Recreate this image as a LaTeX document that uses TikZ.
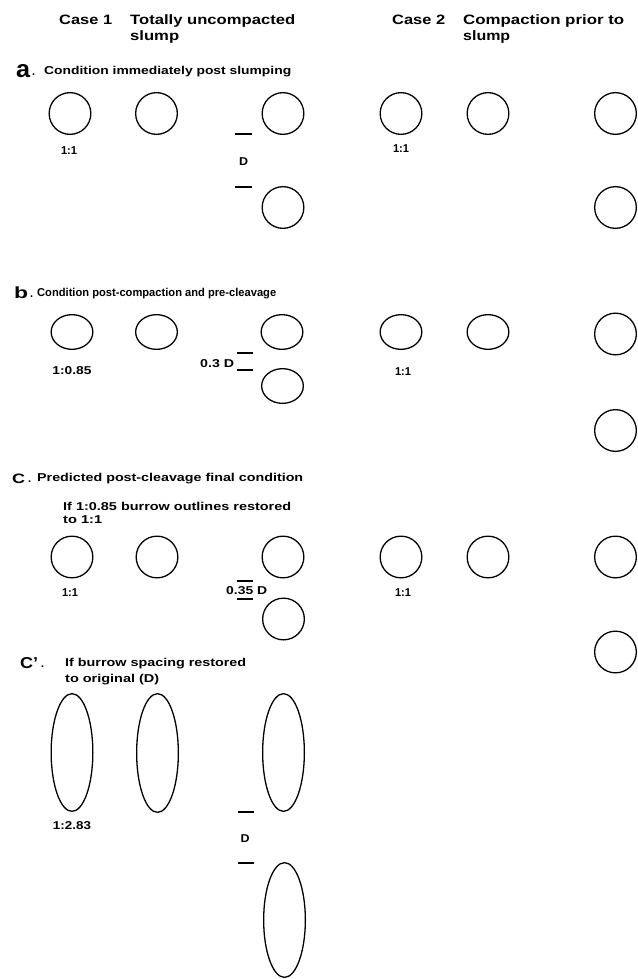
\documentclass[tikz,border=0pt]{standalone}
\usepackage{fontspec}
\setmainfont{Liberation Sans}
\usepackage{graphicx}
\usetikzlibrary{shapes.geometric}

% small bold text stretched to a given width (pt)
\newcommand{\smtxt}[2]{\resizebox{#1pt}{\height}{\fontsize{11.4}{13}\selectfont\bfseries #2}}
% header text
\newcommand{\hdtxt}[2]{\resizebox{#1pt}{\height}{\fontsize{13.6}{15}\selectfont\bfseries #2}}
% big section letter, width x height (pt)
\newcommand{\bigltr}[3]{\resizebox{#1pt}{#2pt}{\bfseries #3}}

\begin{document}
\begin{tikzpicture}[x=1pt,y=-1pt,
  burrow/.style={draw, ellipse, line width=1.3pt, inner sep=0pt,
                 minimum width=41.7pt, minimum height=#1},
  burrow/.default=41.7pt,
  txt/.style={anchor=base west, inner sep=0pt},
  lbl/.style={anchor=base, inner sep=0pt},
  tick/.style={line width=1.5pt}]
\useasboundingbox (0,0) rectangle (637,979);

% ---- column headings
\node[txt] (h1)  at (59,24.5)  {\hdtxt{53}{Case 1}};
\node[txt] (h1a) at (130,24.5) {\hdtxt{165}{Totally uncompacted}};
\node[txt] (h1b) at (130,40.5) {\hdtxt{49}{slump}};
\node[txt] (h2)  at (392,24.5) {\hdtxt{53}{Case 2}};
\node[txt] (h2a) at (463,24.5) {\hdtxt{161}{Compaction prior to}};
\node[txt] (h2b) at (463,40.5) {\hdtxt{47}{slump}};

% ---- a. immediately post slumping
\node[txt] (la)  at (16,78) {\bigltr{14}{13}{a}};
\node[txt] (lad) at (32,76) {\smtxt{3}{.}};
\node[txt] (ta)  at (44,75) {\smtxt{247}{Condition immediately post slumping}};
\node[burrow] (a1) at (70,113.5) {};
\node[burrow] (a2) at (156.5,113.5) {};
\node[burrow] (a3) at (283,113.5) {};
\node[burrow] (a3l) at (283,207.5) {};
\node[burrow] (a4) at (401,113.5) {};
\node[burrow] (a5) at (488,113.5) {};
\node[burrow] (a6) at (615.5,113.5) {};
\node[burrow] (a6l) at (615.5,207.5) {};
\node[lbl] (ra1) at (69,154) {\smtxt{16}{1:1}};
\node[lbl] (ra4) at (401,152) {\smtxt{16}{1:1}};
\draw[tick] (235,134) -- (252,134);
\node[lbl] (da) at (243.5,165) {\smtxt{9}{D}};
\draw[tick] (235,187) -- (252,187);

% ---- b. post-compaction, pre-cleavage
\node[txt] (lb)  at (14,298) {\bigltr{14}{11.7}{b}};
\node[txt] (lbd) at (30,297) {\smtxt{3}{.}};
\node[txt] (tb)  at (37,296) {\smtxt{239}{Condition post-compaction and pre-cleavage}};
\node[burrow=34.7pt] (b1) at (72,332) {};
\node[burrow=34.7pt] (b2) at (156.5,332) {};
\node[burrow=34.7pt] (b3) at (282,332) {};
\node[burrow=34.7pt] (b3l) at (282.5,386) {};
\node[burrow=34.7pt] (b4) at (401,332) {};
\node[burrow=34.7pt] (b5) at (488,332) {};
\node[burrow] (b6) at (615.5,334) {};
\node[burrow] (b6l) at (615.5,430.5) {};
\node[lbl] (rb1) at (72,374) {\smtxt{39}{1:0.85}};
\node[lbl] (rb4) at (403,375) {\smtxt{16}{1:1}};
\node[txt] (db) at (200,367) {\smtxt{34}{0.3 D}};
\draw[tick] (237,353) -- (253,353);
\draw[tick] (237,370) -- (253,370);

% ---- c. predicted post-cleavage final condition
\node[txt] (lc)  at (12,483) {\bigltr{13}{9.5}{C}};
\node[txt] (lcd) at (28,482) {\smtxt{3}{.}};
\node[txt] (tc)  at (37,481) {\smtxt{266}{Predicted post-cleavage final condition}};
\node[txt] (tc1) at (63,510) {\smtxt{228}{If 1:0.85 burrow outlines restored}};
\node[txt] (tc2) at (63,523) {\smtxt{39}{to 1:1}};
\node[burrow] (c1) at (72,557) {};
\node[burrow] (c2) at (157,557) {};
\node[burrow] (c3) at (283,557) {};
\node[burrow] (c3l) at (283.5,619) {};
\node[burrow] (c4) at (401,557) {};
\node[burrow] (c5) at (488,557) {};
\node[burrow] (c6) at (615.5,557) {};
\node[burrow] (c6l) at (615.5,652) {};
\node[lbl] (rc1) at (70,596) {\smtxt{16}{1:1}};
\node[lbl] (rc4) at (403,596) {\smtxt{16}{1:1}};
\node[txt] (dc) at (226,594) {\smtxt{41}{0.35 D}};
\draw[tick] (237,581) -- (253,581);
\draw[tick] (237,599) -- (253,599);

% ---- c'. spacing restored to original
\node[txt] (lcp)  at (20,668) {\bigltr{18}{11}{C'}};
\node[txt] (lcpd) at (41,667) {\smtxt{3}{.}};
\node[txt] (tcp1) at (65,666) {\smtxt{181}{If burrow spacing restored}};
\node[txt] (tcp2) at (65,682) {\smtxt{94}{to original (D)}};
\node[burrow=117.7pt] (e1) at (72,752.5) {};
\node[burrow=118.7pt] (e2) at (157.5,753) {};
\node[burrow=117.7pt] (e3) at (283.5,752.5) {};
\node[burrow=114.7pt] (e3l) at (284.5,920) {};
\node[lbl] (re1) at (72,829) {\smtxt{38}{1:2.83}};
\draw[tick] (238,812) -- (254,812);
\node[lbl] (dcp) at (245,842) {\smtxt{9}{D}};
\draw[tick] (238,863) -- (254,863);
\end{tikzpicture}
\end{document}
